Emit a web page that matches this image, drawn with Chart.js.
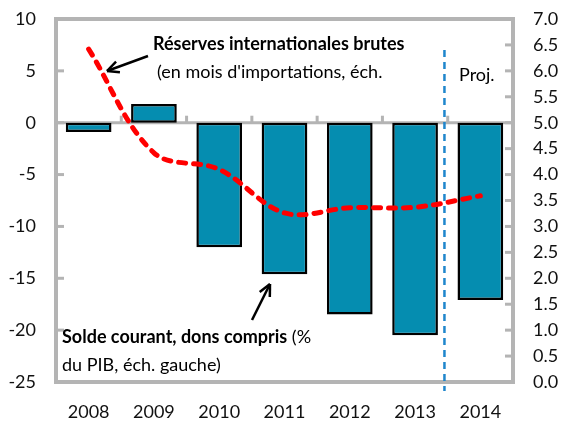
<!DOCTYPE html>
<html>
<head>
<meta charset="utf-8">
<script src="https://cdn.jsdelivr.net/npm/chart.js@4/dist/chart.umd.min.js"></script>
<style>
  body { margin: 0; background: #fff; }
</style>
</head>
<body>
<canvas id="chart" width="562" height="425"></canvas>
<script>
  const years = ['2008', '2009', '2010', '2011', '2012', '2013', '2014'];
  // Solde courant, dons compris (% du PIB) - left axis
  const soldeCourant = [-0.9, 1.8, -12.0, -14.6, -18.5, -20.5, -17.1];
  // Réserves internationales brutes (mois d'importations) - right axis
  const reserves = [6.42, 4.42, 4.1, 3.26, 3.36, 3.37, 3.59];
  const leftTicks = [-25, -20, -15, -10, -5, 0, 5, 10];
  const rightTicks = [0, 0.5, 1, 1.5, 2, 2.5, 3, 3.5, 4, 4.5, 5, 5.5, 6, 6.5, 7];

  const FONT = 'Lato';
  const frameColor = '#b4b4b4';

  function seg(ctx, x1, y1, x2, y2) {
    ctx.beginPath();
    ctx.moveTo(x1, y1);
    ctx.lineTo(x2, y2);
    ctx.stroke();
  }

  function arrow(ctx, x1, y1, x2, y2) {
    const a = Math.atan2(y2 - y1, x2 - x1);
    const h = 13;
    seg(ctx, x1, y1, x2, y2);
    seg(ctx, x2, y2, x2 - h * Math.cos(a - 0.45), y2 - h * Math.sin(a - 0.45));
    seg(ctx, x2, y2, x2 - h * Math.cos(a + 0.45), y2 - h * Math.sin(a + 0.45));
  }

  const framePlugin = {
    id: 'chartFrame',
    // zero line with category ticks, under the bars
    beforeDatasetsDraw(chart) {
      const ctx = chart.ctx;
      const a = chart.chartArea;
      const xs = chart.scales.x, ys = chart.scales.y;
      ctx.save();
      ctx.setLineDash([]);
      ctx.strokeStyle = frameColor;
      ctx.lineWidth = 3;
      const y0 = ys.getPixelForValue(0);
      seg(ctx, a.left, y0, a.right, y0);
      for (let i = 1; i < years.length; i++) {
        const x = (xs.getPixelForValue(i - 1) + xs.getPixelForValue(i)) / 2;
        seg(ctx, x, y0, x, y0 - 7);
      }
      ctx.restore();
    },
    afterDatasetsDraw(chart) {
      const ctx = chart.ctx;
      const a = chart.chartArea;
      const xs = chart.scales.x, ys = chart.scales.y, ys2 = chart.scales.y2;
      ctx.save();
      ctx.setLineDash([]);
      ctx.strokeStyle = frameColor;
      ctx.lineWidth = 4;
      ctx.strokeRect(a.left, a.top, a.right - a.left, a.bottom - a.top);

      ctx.lineWidth = 3;
      leftTicks.forEach(v => {
        const y = ys.getPixelForValue(v);
        seg(ctx, a.left, y, a.left + 8, y);
      });
      rightTicks.forEach(v => {
        const y = ys2.getPixelForValue(v);
        seg(ctx, a.right - 8, y, a.right, y);
      });

      // Proj. dashed line between 2013 and 2014
      const xp = xs.getPixelForValue(5.45);
      ctx.strokeStyle = '#1f86cc';
      ctx.lineWidth = 2.5;
      ctx.setLineDash([7, 5]);
      seg(ctx, xp, ys2.getPixelForValue(6.4), xp, a.bottom + 9);
      ctx.restore();
    },
    afterDraw(chart) {
      const ctx = chart.ctx;
      ctx.save();
      ctx.fillStyle = '#000';
      ctx.textBaseline = 'middle';
      ctx.textAlign = 'left';

      ctx.font = 'bold 18px ' + FONT;
      ctx.fillText('Réserves internationales brutes', 153, 44);
      ctx.font = '18px ' + FONT;
      ctx.fillText("(en mois d'importations, éch.", 157, 72);
      ctx.fillText('Proj.', 459, 75);

      ctx.font = 'bold 18px ' + FONT;
      const bold = 'Solde courant, dons compris';
      ctx.fillText(bold, 62, 337);
      const w = ctx.measureText(bold).width;
      ctx.font = '18px ' + FONT;
      ctx.fillText(' (%', 62 + w, 337);
      ctx.fillText('du PIB, éch. gauche)', 62, 365);

      ctx.strokeStyle = '#000';
      ctx.lineWidth = 2.5;
      ctx.setLineDash([]);
      arrow(ctx, 148, 56, 107, 71);
      arrow(ctx, 252, 320, 270, 284);
      ctx.restore();
    }
  };

  const data = {
    labels: years,
    datasets: [
      {
        type: 'line',
        label: 'Réserves internationales brutes',
        data: reserves,
        yAxisID: 'y2',
        borderColor: '#ff0000',
        borderWidth: 5,
        borderDash: [7, 8],
        borderCapStyle: 'round',
        tension: 0.35,
        pointRadius: 0,
        order: 0,
      },
      {
        type: 'bar',
        label: 'Solde courant, dons compris',
        data: soldeCourant,
        yAxisID: 'y',
        backgroundColor: '#058db0',
        borderColor: '#000',
        borderWidth: 2.5,
        borderSkipped: false,
        categoryPercentage: 1,
        barPercentage: 0.7,
        order: 1,
      },
    ],
  };

  const tickFont = { family: FONT, size: 18 };

  // drop the label overhang padding so the plot spans the fixed frame
  function fixVertical(width) {
    return s => {
      s.width = width;
      s.paddingTop = 0;
      s.paddingBottom = 0;
    };
  }

  const config = {
    data: data,
    options: {
      responsive: false,
      animation: false,
      devicePixelRatio: 1,
      layout: { padding: { top: 19, right: 0, bottom: 0, left: 0 } },
      plugins: { legend: { display: false }, tooltip: { enabled: false } },
      scales: {
        x: {
          offset: true,
          grid: { display: false, drawTicks: false },
          border: { display: false },
          ticks: { color: '#111', font: tickFont, padding: 19, maxRotation: 0 },
          afterFit: s => { s.height = 43; s.paddingLeft = 0; s.paddingRight = 0; },
        },
        y: {
          position: 'left',
          min: leftTicks[0],
          max: leftTicks[leftTicks.length - 1],
          grid: { display: false, drawTicks: false },
          border: { display: false },
          ticks: { color: '#111', font: tickFont, padding: 20 },
          afterBuildTicks: s => { s.ticks = leftTicks.map(v => ({ value: v })); },
          afterFit: fixVertical(56),
        },
        y2: {
          position: 'right',
          min: rightTicks[0],
          max: rightTicks[rightTicks.length - 1],
          grid: { display: false, drawTicks: false },
          border: { display: false },
          ticks: { color: '#111', font: tickFont, padding: 20, callback: v => Number(v).toFixed(1) },
          afterBuildTicks: s => { s.ticks = rightTicks.map(v => ({ value: v })); },
          afterFit: fixVertical(49),
        },
      },
    },
    plugins: [framePlugin],
  };

  var myChart = new Chart(document.getElementById('chart'), config);
</script>
</body>
</html>
